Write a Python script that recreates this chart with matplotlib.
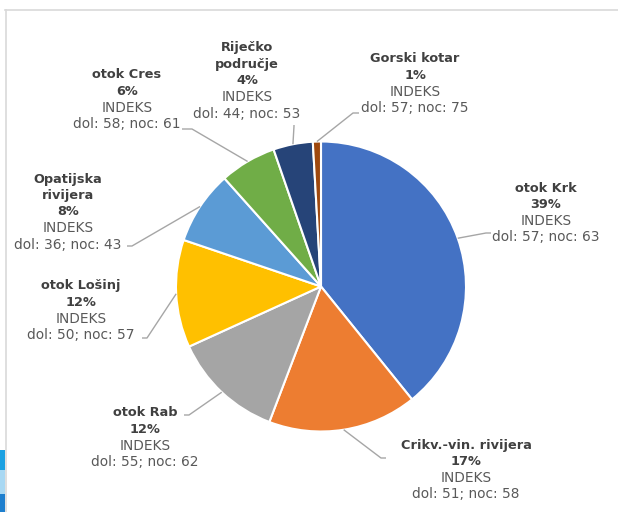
import numpy as np
import matplotlib
matplotlib.use("Agg")
import matplotlib.pyplot as plt
from matplotlib.lines import Line2D
from matplotlib.patches import Rectangle

# podaci (udio u %, indeksi dol / noc)
regions = ["otok Krk", "Crikv.-vin. rivijera", "otok Rab", "otok Lošinj",
           "Opatijska\nrivijera", "otok Cres", "Riječko\npodručje", "Gorski kotar"]
shares = [39.2, 16.6, 12.4, 12.0, 8.2, 6.3, 4.4, 0.9]
dol = [57, 51, 55, 50, 36, 58, 44, 57]
noc = [63, 58, 62, 57, 43, 61, 53, 75]
colors = ["#4472C4", "#ED7D31", "#A5A5A5", "#FFC000",
          "#5B9BD5", "#70AD47", "#264478", "#9E480E"]

W, H = 618, 512

# raspored oznaka (px, y od vrha): sredina teksta, prvi red, lakat linije, kraj linije
label_pos = [(546, 188), (466, 445), (145, 413), (81, 286),
             (68, 179), (127, 75), (247, 48), (415, 59)]
elbows = [(486, 233), (381, 458), (189, 415), (147, 338),
          (132, 246), (192, 129), (294, 126), (353, 113)]
ends = [(491, 233), (386, 458), (184, 415), (142, 338),
        (127, 246), (182, 129), (294, 125), (359, 113)]


def main():
    fig = plt.figure(figsize=(W / 100, H / 100), dpi=100)
    ax = fig.add_axes([0, 0, 1, 1])

    wedges, _ = ax.pie(shares, colors=colors, startangle=90, counterclock=False,
                       center=(321, H - 286.5), radius=145,
                       wedgeprops=dict(edgecolor="white", linewidth=1.5))
    ax.set_xlim(0, W)
    ax.set_ylim(0, H)
    ax.set_aspect("equal")
    ax.axis("off")

    line_h = 16.4
    for i, w in enumerate(wedges):
        # linija od sredine isječka do oznake
        ang = np.deg2rad((w.theta1 + w.theta2) / 2)
        ax_, ay_ = w.center[0] + w.r * np.cos(ang), w.center[1] + w.r * np.sin(ang)
        ex, ey = elbows[i]
        tx, ty = ends[i]
        ax.plot([ax_, ex, tx], [ay_, H - ey, H - ty], color="#A6A6A6", lw=1,
                solid_capstyle="butt")

        cx, y0 = label_pos[i]
        bold_lines = regions[i].split("\n") + ["%d%%" % round(shares[i])]
        reg_lines = ["INDEKS", "dol: %d; noc: %d" % (dol[i], noc[i])]
        y = y0
        for s in bold_lines:
            ax.text(cx, H - y, s, ha="center", va="center", fontsize=9.3,
                    fontweight="bold", color="#404040")
            y += line_h
        for s in reg_lines:
            ax.text(cx, H - y, s, ha="center", va="center", fontsize=9.9,
                    color="#595959")
            y += line_h

    # okvir grafikona i rub slike
    fig.add_artist(Line2D([5 / W, 1], [1 - 10 / H, 1 - 10 / H], color="#D9D9D9", lw=1.2))
    fig.add_artist(Line2D([6 / W, 6 / W], [0, 1 - 10 / H], color="#D9D9D9", lw=1.2))
    for y1, y2, c in [(450, 470, "#1BA1E2"), (470, 494, "#A8D8F3"), (494, 512, "#1E7FCE")]:
        fig.add_artist(Rectangle((0, 1 - y2 / H), 5 / W, (y2 - y1) / H,
                                 transform=fig.transFigure, color=c, lw=0))

    fig.savefig("out.png", dpi=100)


if __name__ == "__main__":
    main()
